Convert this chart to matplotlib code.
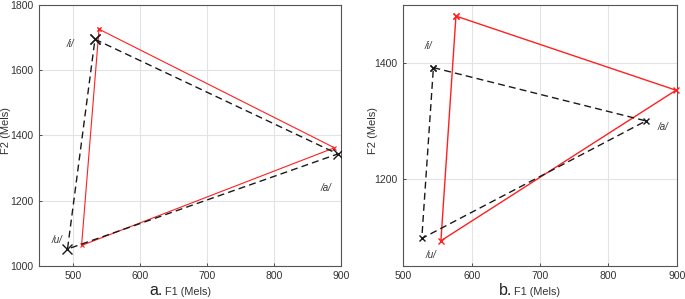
import matplotlib
matplotlib.use("Agg")
import matplotlib.pyplot as plt

plt.rcParams['font.family'] = ['Liberation Sans', 'DejaVu Sans']

vowels = ["/i/", "/a/", "/u/"]

# Panel a
a_black_f1 = [533, 895, 492]
a_black_f2 = [1695, 1343, 1051]
a_red_f1 = [539, 890, 513]
a_red_f2 = [1726, 1362, 1062]
a_label_f1 = [496, 878, 477]
a_label_f2 = [1682, 1240, 1079]

# Panel b
b_black_f1 = [544, 855, 527]
b_black_f2 = [1392, 1300, 1097]
b_red_f1 = [577, 899, 555]
b_red_f2 = [1481, 1353, 1093]
b_label_f1 = [537, 880, 540]
b_label_f2 = [1430, 1290, 1069]

fig = plt.figure(figsize=(6.85, 2.99), dpi=100)
ax1 = fig.add_axes([0.0574, 0.1114, 0.4406, 0.8716])
ax2 = fig.add_axes([0.5888, 0.1114, 0.3991, 0.8716])

frame_col = '#555555'
tick_col = '#333333'

def closed(v):
    return list(v) + [v[0]]

def style(ax, xlim, ylim, xticks, yticks, letter, ylab_x, lab_x):
    ax.set_xlim(*xlim)
    ax.set_ylim(*ylim)
    ax.set_xticks(xticks)
    ax.set_yticks(yticks)
    ax.grid(True, color='#e3e3e3', linewidth=0.8)
    ax.set_axisbelow(True)
    for s in ax.spines.values():
        s.set_color(frame_col)
        s.set_linewidth(0.8)
    ax.tick_params(axis='both', labelsize=7.5, colors=tick_col, length=2.5, width=0.6, direction='in', pad=4)
    ax.set_ylabel('F2 (Mels)', fontsize=8, color=tick_col)
    ax.yaxis.set_label_coords(ylab_x, 0.52)
    ax.set_xlabel('')
    ax.text(lab_x, -0.1125, letter + '.', transform=ax.transAxes, fontsize=11.5, color='#222222',
            ha='right', va='baseline')
    ax.text(lab_x + 0.008, -0.1125, 'F1 (Mels)', transform=ax.transAxes, fontsize=7.8, color=tick_col,
            ha='left', va='baseline')

# Panel a
ax1.plot(closed(a_red_f1), closed(a_red_f2), color='#ff2020', linewidth=0.8, marker='x',
         markersize=3.5, markeredgewidth=0.8, zorder=3)
ax1.plot(closed(a_black_f1), closed(a_black_f2), color='#1a1a1a', linewidth=1.0, linestyle=(0, (5, 3)),
         marker='x', markersize=6.5, markeredgewidth=1.0, zorder=4)
for v, x, y in zip(vowels, a_label_f1, a_label_f2):
    ax1.text(x, y, v, fontsize=7, style='italic', color='#333333', ha='center', va='center')
style(ax1, (450, 900), (1000, 1800), [500, 600, 700, 800, 900], [1000, 1200, 1400, 1600, 1800], 'a', -0.095, 0.41)

# Panel b
ax2.plot(closed(b_red_f1), closed(b_red_f2), color='#ff2020', linewidth=1.0, marker='x',
         markersize=4, markeredgewidth=1.0, zorder=3, clip_on=False)
ax2.plot(closed(b_black_f1), closed(b_black_f2), color='#1a1a1a', linewidth=1.0, linestyle=(0, (5, 3)),
         marker='x', markersize=4, markeredgewidth=1.0, zorder=4)
for v, x, y in zip(vowels, b_label_f1, b_label_f2):
    ax2.text(x, y, v, fontsize=7, style='italic', color='#333333', ha='center', va='center')
style(ax2, (500, 900), (1050, 1500), [500, 600, 700, 800, 900], [1200, 1400], 'b', -0.094, 0.398)

fig.savefig('out.png', dpi=100)
